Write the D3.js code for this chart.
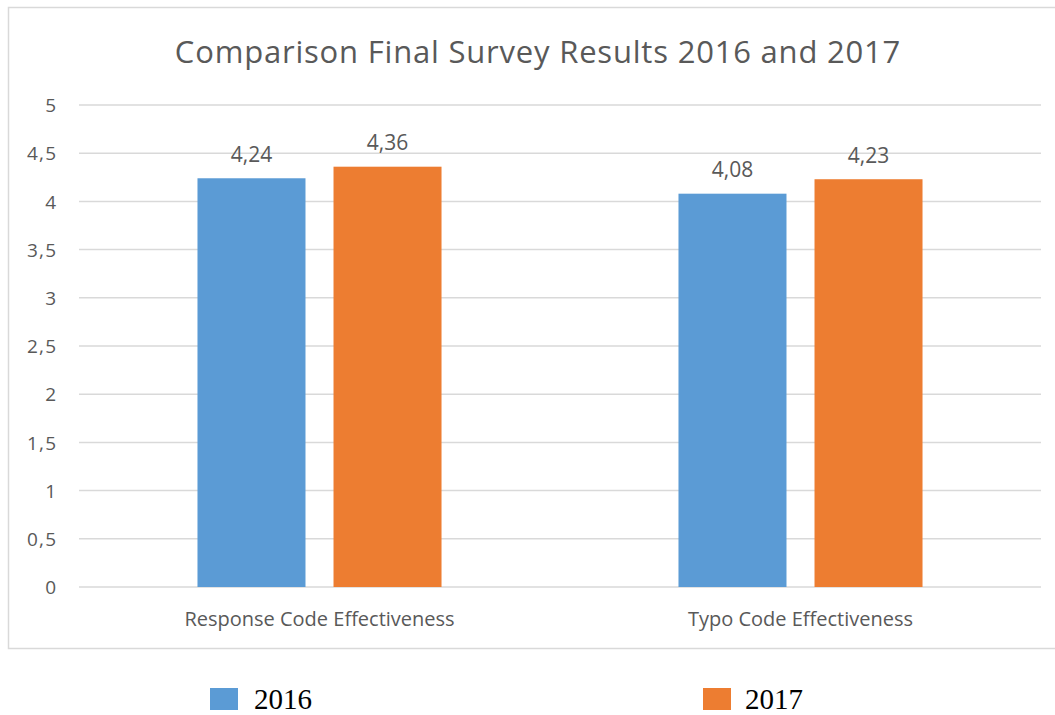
<!DOCTYPE html>
<html><head><meta charset="utf-8">
<script src="https://cdn.jsdelivr.net/npm/d3@7"></script>
<style>body{margin:0;background:#fff}svg{display:block}</style>
</head><body>
<svg id="c" width="1055" height="715"></svg>
<script>
const categories = ["Response Code Effectiveness", "Typo Code Effectiveness"];
const seriesNames = ["2016", "2017"];
const values2016 = [4.24, 4.08];
const values2017 = [4.36, 4.23];
const yTicks = [0, 0.5, 1, 1.5, 2, 2.5, 3, 3.5, 4, 4.5, 5];
const colors = ["#5B9BD5", "#ED7D31"];
const title = "Comparison Final Survey Results 2016 and 2017";

const svg = d3.select("#c");
const fmt = v => String(v).replace(".", ",");
const font = "'Open Sans', sans-serif";
const txt = "#595959";

// chart border
svg.append("rect").attr("x", 8.5).attr("y", 7.5).attr("width", 1060).attr("height", 641)
  .attr("fill", "#fff").attr("stroke", "#d9d9d9").attr("stroke-width", 1.5);

svg.append("text").attr("x", 538).attr("y", 63).attr("text-anchor", "middle")
  .attr("font-family", font).attr("font-size", 31).attr("letter-spacing", 0.8)
  .attr("fill", txt).text(title);

const x0 = d3.scaleBand().domain(categories).range([79, 1041]);
const y = d3.scaleLinear().domain([0, 5]).range([587, 105]);

// y axis labels
const yAxis = d3.axisLeft(y).tickValues(yTicks).tickFormat(fmt).tickSize(0).tickPadding(0);
const ga = svg.append("g").attr("transform", "translate(57.5,0)").call(yAxis);
ga.select(".domain").remove();
ga.selectAll("text").attr("font-family", font).attr("font-size", 19).attr("letter-spacing", 1.3)
  .attr("fill", txt).attr("dy", "0.35em");

// gridlines
svg.append("g").selectAll("line").data(yTicks).join("line")
  .attr("x1", 79).attr("x2", 1041).attr("y1", d => y(d)).attr("y2", d => y(d))
  .attr("stroke", "#d9d9d9").attr("stroke-width", 1.5);

const data = categories.map((c, i) => ({cat: c, vals: [values2016[i], values2017[i]]}));
const x1 = d3.scaleBand().domain(seriesNames).range([0, x0.bandwidth()]).paddingInner(0.206).paddingOuter(0.871);

const groups = svg.append("g").selectAll("g").data(data).join("g")
  .attr("transform", d => `translate(${x0(d.cat)},0)`);
groups.selectAll("rect").data(d => d.vals.map((v, j) => ({s: seriesNames[j], v, j}))).join("rect")
  .attr("x", d => x1(d.s)).attr("width", x1.bandwidth())
  .attr("y", d => y(d.v)).attr("height", d => y(0) - y(d.v))
  .attr("fill", d => colors[d.j]);
groups.selectAll("text.lbl").data(d => d.vals.map((v, j) => ({s: seriesNames[j], v, j}))).join("text")
  .attr("class", "lbl")
  .attr("x", d => x1(d.s) + x1.bandwidth() / 2).attr("y", d => y(d.v) - 16.5)
  .attr("text-anchor", "middle").attr("font-family", font).attr("font-size", 21).attr("fill", txt)
  .text(d => fmt(d.v));

// x axis labels
const xa = svg.append("g").attr("transform", `translate(0,${y(0)})`)
  .call(d3.axisBottom(x0).tickSize(0).tickPadding(0));
xa.select(".domain").remove();
xa.selectAll("text").attr("font-family", font).attr("font-size", 20).attr("fill", txt)
  .attr("dy", "0").attr("y", 39);

// legend
const legX = [210, 703];
const leg = svg.append("g").selectAll("g").data(seriesNames).join("g")
  .attr("transform", (d, i) => `translate(${legX[i]},688)`);
leg.append("rect").attr("width", 28).attr("height", 22).attr("fill", (d, i) => colors[i]);
leg.append("text").attr("x", (d, i) => i === 0 ? 44 : 42).attr("y", 21)
  .attr("font-family", "'Liberation Serif', serif").attr("font-size", 29).attr("fill", "#000")
  .text(d => d);
</script>
</body></html>
